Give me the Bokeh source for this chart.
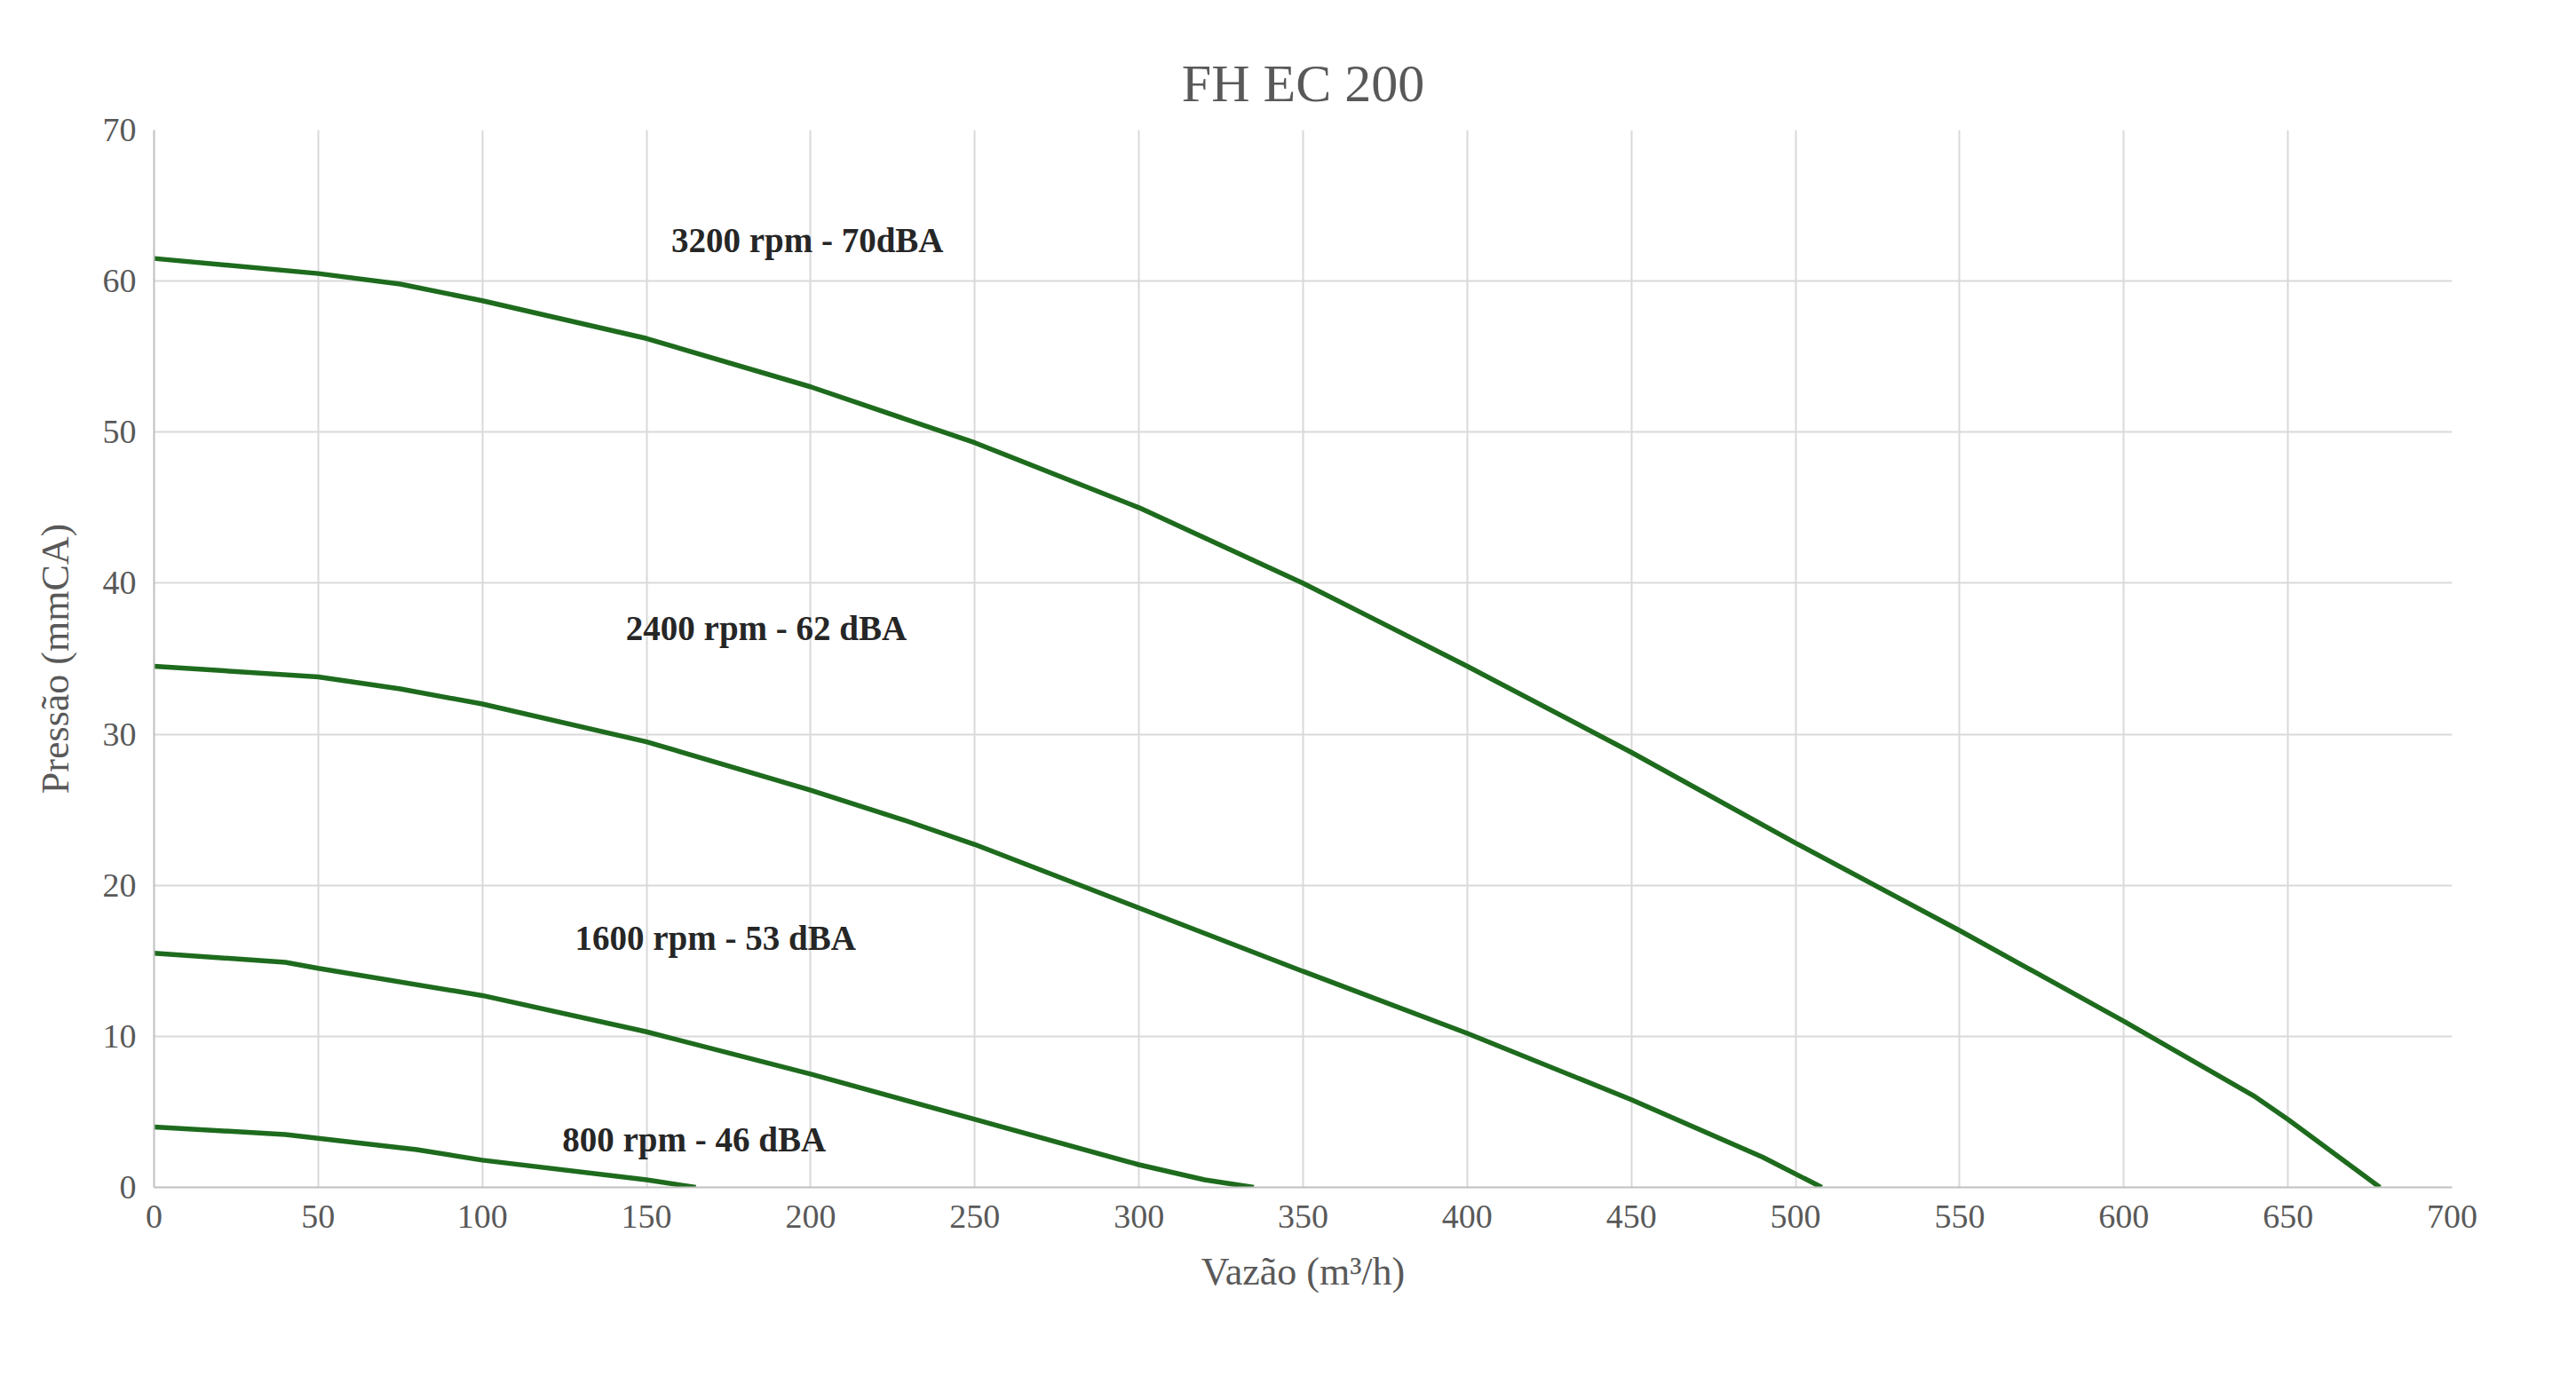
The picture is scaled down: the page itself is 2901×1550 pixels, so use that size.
from bokeh.plotting import figure
from bokeh.models import FixedTicker, Range1d, ColumnDataSource
from bokeh.core.properties import value
from bokeh.embed import file_html
from bokeh.resources import INLINE

x3200 = [0, 50, 75, 100, 150, 200, 250, 300, 350, 400, 450, 500, 550, 600, 640, 650, 678]
y3200 = [61.5, 60.5, 59.8, 58.7, 56.2, 53, 49.3, 45, 40, 34.5, 28.8, 22.8, 17, 11, 6, 4.5, 0]
x2400 = [0, 50, 75, 100, 150, 200, 230, 250, 300, 350, 400, 450, 490, 508]
y2400 = [34.5, 33.8, 33.0, 32, 29.5, 26.3, 24.2, 22.7, 18.5, 14.3, 10.2, 5.8, 2, 0]
x1600 = [0, 40, 50, 100, 150, 200, 250, 300, 320, 335]
y1600 = [15.5, 14.9, 14.5, 12.7, 10.3, 7.5, 4.5, 1.5, 0.5, 0]
x800 = [0, 40, 60, 80, 100, 150, 165]
y800 = [4, 3.5, 3.0, 2.5, 1.8, 0.5, 0]
label_text = ["3200 rpm - 70dBA", "2400 rpm - 62 dBA", "1600 rpm - 53 dBA", "800 rpm - 46 dBA"]
label_x = [199, 186.5, 171, 164.5]
label_y = [62.7, 37, 16.5, 3.2]

FONT = "Liberation Serif"
GREEN = "#1E6B1E"

p = figure(width=2885, height=1534, output_backend="svg", toolbar_location=None,
           x_range=Range1d(0, 700), y_range=Range1d(0, 70),
           min_border_left=173, min_border_right=124, min_border_top=146, min_border_bottom=197,
           title="FH EC 200")
p.title.align = "center"
p.title.text_font = FONT
p.title.text_font_size = "60px"
p.title.text_font_style = "normal"
p.title.text_color = "#595959"
p.title.standoff = 40
p.outline_line_color = None
p.border_fill_color = "white"

for xs, ys in [(x3200, y3200), (x2400, y2400), (x1600, y1600), (x800, y800)]:
    p.line(xs, ys, line_color=GREEN, line_width=5.5)

src = ColumnDataSource(dict(x=label_x, y=label_y, t=label_text))
p.text("x", "y", text="t", source=src, text_font=value(FONT), text_font_size="39px",
       text_font_style="bold", text_color="#262626", text_align="center", text_baseline="middle")

p.xaxis.ticker = FixedTicker(ticks=list(range(0, 701, 50)))
p.yaxis.ticker = FixedTicker(ticks=list(range(0, 71, 10)))
for ax in (p.xaxis, p.yaxis):
    ax.major_label_text_font = FONT
    ax.major_label_text_font_size = "38px"
    ax.major_label_text_color = "#595959"
    ax.axis_label_text_font = FONT
    ax.axis_label_text_font_size = "44px"
    ax.axis_label_text_font_style = "normal"
    ax.axis_label_text_color = "#595959"
    ax.axis_line_color = "#bfbfbf"
    ax.axis_line_width = 2
    ax.major_tick_line_color = None
    ax.minor_tick_line_color = None
    ax.major_label_standoff = 14
p.xaxis.axis_label_standoff = 22
p.yaxis.axis_label_standoff = 26
p.xaxis.axis_label = "Vazão (m³/h)"
p.yaxis.axis_label = "Pressão (mmCA)"
p.grid.grid_line_color = "#d9d9d9"
p.grid.grid_line_width = 2

open("out.html", "w").write(file_html(p, INLINE))
